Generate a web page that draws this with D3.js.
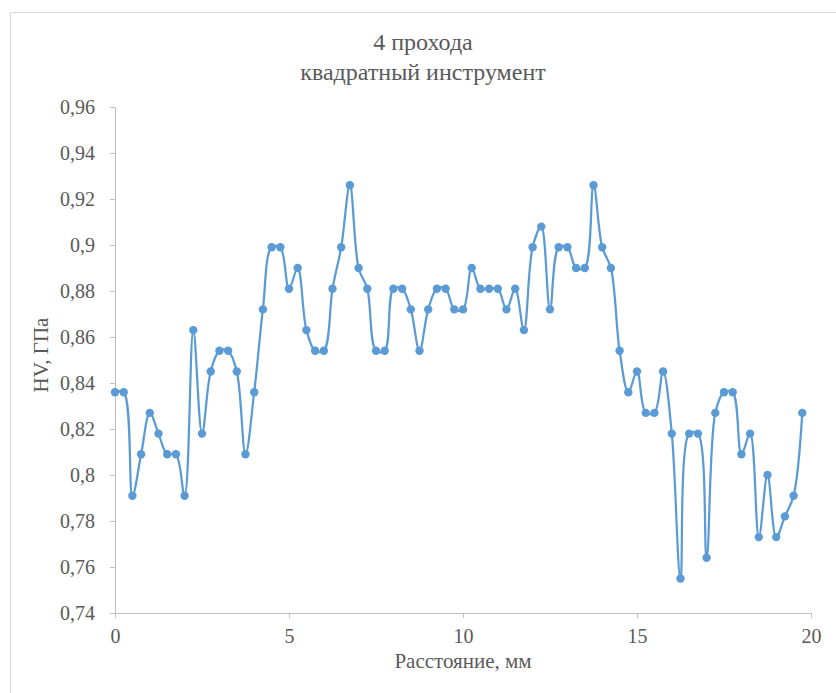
<!DOCTYPE html>
<html><head><meta charset="utf-8">
<script src="https://cdn.jsdelivr.net/npm/d3@7"></script>
<style>body{margin:0;background:#fff;}svg{display:block;}text{font-family:"Liberation Serif","Times New Roman",Tinos,"DejaVu Serif",serif;fill:#595959;}</style>
</head><body>
<svg id="c" width="836" height="693"></svg>
<script>
const titleLines = ["4 прохода", "квадратный инструмент"];
const xLabel = "Расстояние, мм";
const yLabel = "HV, ГПа";
const xTicks = [0, 5, 10, 15, 20];
const yTicks = [0.74, 0.76, 0.78, 0.80, 0.82, 0.84, 0.86, 0.88, 0.90, 0.92, 0.94, 0.96];
const distance = d3.range(0, 20, 0.25);
const hardness = [
 0.836,0.836,0.791,0.809,0.827,0.818,0.809,0.809,0.791,0.863,
 0.818,0.845,0.854,0.854,0.845,0.809,0.836,0.872,0.899,0.899,
 0.881,0.890,0.863,0.854,0.854,0.881,0.899,0.926,0.890,0.881,
 0.854,0.854,0.881,0.881,0.872,0.854,0.872,0.881,0.881,0.872,
 0.872,0.890,0.881,0.881,0.881,0.872,0.881,0.863,0.899,0.908,
 0.872,0.899,0.899,0.890,0.890,0.926,0.899,0.890,0.854,0.836,
 0.845,0.827,0.827,0.845,0.818,0.755,0.818,0.818,0.764,0.827,
 0.836,0.836,0.809,0.818,0.773,0.800,0.773,0.782,0.791,0.827
];
const data = distance.map((d,i)=>({x:d,y:hardness[i]}));
const FONT = '"Liberation Serif","Times New Roman",Tinos,"DejaVu Serif",serif';

const svg = d3.select("#c");
svg.append("rect").attr("x",10.5).attr("y",12.5).attr("width",900).attr("height",800)
  .attr("fill","#fff").attr("stroke","#d9d9d9").attr("stroke-width",1);

const x = d3.scaleLinear().domain([0,20]).range([115,811]);
const y = d3.scaleLinear().domain([0.74,0.96]).range([613,107]);
const yFmt = d => (+d.toFixed(2)).toString().replace(".",",");

const gx = svg.append("g").attr("transform","translate(0,613)")
  .call(d3.axisBottom(x).tickValues(xTicks).tickSize(5).tickPadding(11).tickFormat(d=>d));
const gy = svg.append("g").attr("transform","translate(115,0)")
  .call(d3.axisLeft(y).tickValues(yTicks).tickSize(5).tickPadding(15).tickFormat(yFmt));
[gx,gy].forEach(g=>{
  g.attr("font-family",FONT).attr("font-size",20);
  g.select(".domain").attr("stroke","#bfbfbf").attr("stroke-width",1);
  g.selectAll(".tick line").attr("stroke","#bfbfbf");
  g.selectAll(".tick text").attr("fill","#595959").style("font-size","20px").style("font-family",FONT);
});
gx.selectAll(".tick text").attr("dy","0.71em");

const line = d3.line().x(d=>x(d.x)).y(d=>y(d.y)).curve(d3.curveCatmullRom.alpha(0.5));
svg.append("path").datum(data).attr("d",line).attr("fill","none")
  .attr("stroke","#5b9bd5").attr("stroke-width",2.25).attr("stroke-linejoin","round");
svg.append("g").selectAll("circle").data(data).join("circle")
  .attr("cx",d=>x(d.x)).attr("cy",d=>y(d.y)).attr("r",4.2).attr("fill","#5b9bd5");

svg.append("g").selectAll("text").data(titleLines).join("text")
  .attr("x",423).attr("y",(d,i)=>50+i*30).attr("text-anchor","middle")
  .style("font-size","24px").style("font-family",FONT).text(d=>d);
svg.append("text").attr("x",463).attr("y",668).attr("text-anchor","middle")
  .style("font-size","21px").style("font-family",FONT).text(xLabel);
svg.append("text").attr("transform","translate(48,355) rotate(-90)").attr("text-anchor","middle")
  .style("font-size","21px").style("font-family",FONT).text(yLabel);
</script>
</body></html>
